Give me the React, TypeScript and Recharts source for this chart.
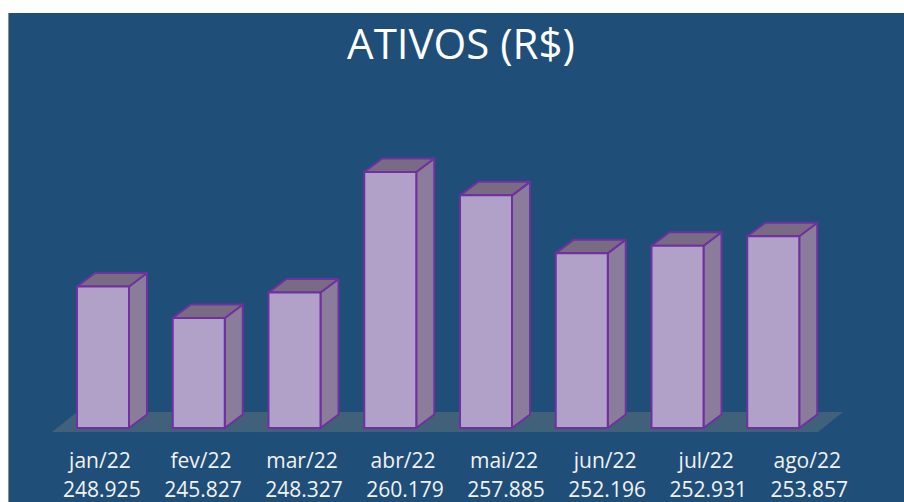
import React from 'react';
import { BarChart, Bar, XAxis, YAxis, ReferenceArea } from 'recharts';

const months = ['jan/22', 'fev/22', 'mar/22', 'abr/22', 'mai/22', 'jun/22', 'jul/22', 'ago/22'];
const ativos = [248925, 245827, 248327, 260179, 257885, 252196, 252931, 253857];
const yDomain = [235000, 265000];

const data = months.map((m, i) => ({ month: m, value: ativos[i] }));

const DX = 18; // profundidade 3D
const DY = 13.5;

const fmt = (v: number) => {
  const s = String(v);
  return s.replace(/\B(?=(\d{3})+(?!\d))/g, '.');
};

const Bar3D = (props: any) => {
  const { x, y, width, height } = props;
  if (height == null || height <= 0) return null;
  const top = `${x},${y} ${x + DX},${y - DY} ${x + width + DX},${y - DY} ${x + width},${y}`;
  const side = `${x + width},${y} ${x + width + DX},${y - DY} ${x + width + DX},${y + height - DY} ${x + width},${y + height}`;
  return (
    <g stroke="#7030A0" strokeWidth={2} strokeLinejoin="round">
      <polygon points={side} fill="#8A7D9C" />
      <polygon points={top} fill="#7A6B84" />
      <rect x={x} y={y} width={width} height={height} fill="#B1A0C7" />
    </g>
  );
};

const Floor = (props: any) => {
  const { x, y, width, height } = props;
  const b = y + height + 4;
  const pts = `${x - 3},${b} ${x + width - 3},${b} ${x + width + 22},${b - 20} ${x + 22},${b - 20}`;
  return <polygon points={pts} fill="#41607A" stroke="none" />;
};

const Tick = (props: any) => {
  const { x, payload, index } = props;
  const cx = 100 + (x - 103) * (101 / 95.7);
  return (
    <g fontFamily="'Open Sans', sans-serif" fontSize={21} fill="#F2F2F2">
      <text x={cx} y={468} textAnchor="middle">{payload.value}</text>
      <text x={cx + 2} y={497} textAnchor="middle">{fmt(ativos[index])}</text>
    </g>
  );
};

export default function App() {
  return (
    <div style={{ position: 'absolute', left: 0, top: 0, width: 904, height: 502, background: '#fff', overflow: 'hidden' }}>
      <div style={{ position: 'absolute', left: 8, top: 13, width: 896, height: 489, background: '#1F4E79', borderLeft: '1px solid #8C8C8C' }} />
      <div style={{ position: 'absolute', left: 0, top: 13, width: 922, textAlign: 'center', color: '#fff', fontFamily: "'Open Sans', sans-serif", fontSize: 42, lineHeight: '60px' }}>
        ATIVOS (R$)
      </div>
      <div style={{ position: 'absolute', left: 0, top: 0 }}>
        <BarChart width={904} height={502} data={data} margin={{ top: 123, right: 83, bottom: 4, left: 55 }}>
          <XAxis dataKey="month" axisLine={false} tickLine={false} height={70} tick={<Tick />} interval={0} />
          <YAxis hide domain={yDomain} />
          <ReferenceArea y1={yDomain[0]} y2={yDomain[0] + 100} shape={<Floor />} ifOverflow="visible" />
          <Bar dataKey="value" barSize={52} shape={<Bar3D />} isAnimationActive={false} />
        </BarChart>
      </div>
    </div>
  );
}
